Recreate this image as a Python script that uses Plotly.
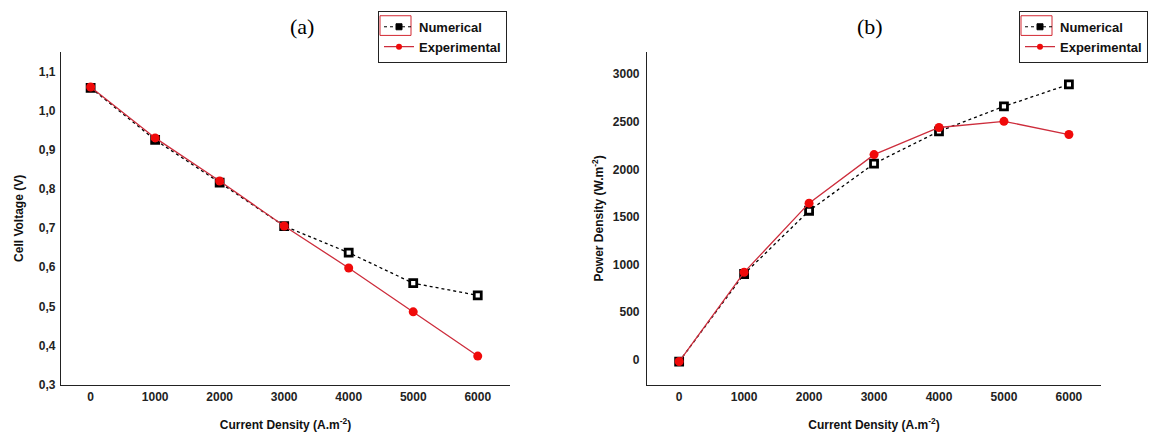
import plotly.graph_objects as go

# ---- data ----
current_density = [0, 1000, 2000, 3000, 4000, 5000, 6000]
voltage_numerical = [1.058, 0.925, 0.816, 0.705, 0.637, 0.559, 0.528]
voltage_experimental = [1.060, 0.930, 0.820, 0.705, 0.598, 0.486, 0.373]
power_numerical = [-20, 900, 1565, 2060, 2400, 2662, 2893]
power_experimental = [-20, 918, 1645, 2155, 2440, 2505, 2366]

x_tick_vals = [0, 1000, 2000, 3000, 4000, 5000, 6000]
x_tick_text = ["0", "1000", "2000", "3000", "4000", "5000", "6000"]
v_tick_vals = [0.3, 0.4, 0.5, 0.6, 0.7, 0.8, 0.9, 1.0, 1.1]
v_tick_text = ["0,3", "0,4", "0,5", "0,6", "0,7", "0,8", "0,9", "1,0", "1,1"]
p_tick_vals = [0, 500, 1000, 1500, 2000, 2500, 3000]
p_tick_text = ["0", "500", "1000", "1500", "2000", "2500", "3000"]

W, H = 1163, 432
FONT = "Liberation Sans, Arial, sans-serif"
RED_LINE = "rgb(205,45,60)"
RED_MARK = "rgb(240,10,10)"

def px(x):
    return x / W

def py(y):
    return 1 - y / H

fig = go.Figure()

num_line = dict(color="black", width=1.3, dash="3px,3px")
num_marker = dict(symbol="square", size=7, color="white", line=dict(color="black", width=2.8))
exp_line = dict(color=RED_LINE, width=1.3)
exp_marker = dict(symbol="circle", size=9, color=RED_MARK, line=dict(width=0))

leg_num_marker = dict(symbol="square", size=6, color="black", line=dict(color="black", width=1))
leg_exp_marker = dict(symbol="circle", size=6, color=RED_MARK, line=dict(width=0))

for xa, ya, leg, yn, ye in [("x", "y", "legend", voltage_numerical, voltage_experimental),
                            ("x2", "y2", "legend2", power_numerical, power_experimental)]:
    fig.add_trace(go.Scatter(x=current_density, y=yn, mode="lines+markers",
                             name="Numerical", line=num_line, marker=num_marker,
                             xaxis=xa, yaxis=ya, showlegend=False))
    fig.add_trace(go.Scatter(x=current_density, y=ye, mode="lines+markers",
                             name="Experimental", line=exp_line, marker=exp_marker,
                             xaxis=xa, yaxis=ya, showlegend=False))
    # legend entries (small symbols as in the reference)
    fig.add_trace(go.Scatter(x=[None], y=[None], mode="lines+markers", name="Numerical",
                             line=dict(color="black", width=1, dash="dot"), marker=leg_num_marker,
                             xaxis=xa, yaxis=ya, legend=leg))
    fig.add_trace(go.Scatter(x=[None], y=[None], mode="lines+markers", name="Experimental",
                             line=dict(color=RED_LINE, width=1.3), marker=leg_exp_marker,
                             xaxis=xa, yaxis=ya, legend=leg))

tick_font = dict(family=FONT, size=12, color="#222", weight="bold")
title_font = dict(family=FONT, size=12, color="#111", weight="bold")

axis_common = dict(showline=True, linecolor="#222", linewidth=1.2, showgrid=False,
                   zeroline=False, ticks="", tickfont=tick_font, mirror=False)

ydom = [py(391), py(53)]

legend_common = dict(xanchor="left", yanchor="top", bordercolor="#222", borderwidth=1,
                     bgcolor="rgba(0,0,0,0)",
                     font=dict(family=FONT, size=13, color="#111", weight="bold"),
                     itemwidth=30, tracegroupgap=0)

fig.update_layout(
    width=W, height=H,
    margin=dict(l=0, r=0, t=0, b=0),
    paper_bgcolor="white", plot_bgcolor="white",
    xaxis=dict(domain=[px(61), px(510)], range=[-459, 6500], anchor="y",
               tickvals=x_tick_vals, ticktext=x_tick_text, ticklabelstandoff=1,
               title=dict(text="Current Density (A.m<sup>-2</sup>)", font=title_font, standoff=17),
               **axis_common),
    yaxis=dict(domain=ydom, range=[0.3, 1.149], anchor="x",
               tickvals=v_tick_vals, ticktext=v_tick_text, ticklabelstandoff=2,
               title=dict(text="Cell Voltage (V)", font=title_font, standoff=12),
               **axis_common),
    xaxis2=dict(domain=[px(647), px(1101)], range=[-495, 6494], anchor="y2",
                tickvals=x_tick_vals, ticktext=x_tick_text, ticklabelstandoff=1,
                title=dict(text="Current Density (A.m<sup>-2</sup>)", font=title_font, standoff=17),
                **axis_common),
    yaxis2=dict(domain=ydom, range=[-263, 3232], anchor="x2",
                tickvals=p_tick_vals, ticktext=p_tick_text, ticklabelstandoff=4,
                title=dict(text="Power Density (W.m<sup>-2</sup>)", font=title_font, standoff=6),
                **axis_common),
    legend=dict(x=px(378), y=py(11), **legend_common),
    legend2=dict(x=px(1019), y=py(11), **legend_common),
    showlegend=True,
    shapes=[
        dict(type="rect", xref="paper", yref="paper", x0=px(380), x1=px(411), y0=py(36), y1=py(16),
             line=dict(color="rgb(210,40,50)", width=1)),
        dict(type="rect", xref="paper", yref="paper", x0=px(1021), x1=px(1052), y0=py(36), y1=py(16),
             line=dict(color="rgb(210,40,50)", width=1)),
    ],
    annotations=[
        dict(text="(a)", x=px(288), y=py(27), xref="paper", yref="paper", yanchor="middle",
             showarrow=False, font=dict(family="Liberation Serif, Times New Roman, serif", size=22, color="black")),
        dict(text="(b)", x=px(885), y=py(27), xref="paper", yref="paper", yanchor="middle",
             showarrow=False, font=dict(family="Liberation Serif, Times New Roman, serif", size=22, color="black")),
    ],
)

fig.write_html("out.html", config={"displayModeBar": False},
               post_script="document.body.style.margin='0';")
